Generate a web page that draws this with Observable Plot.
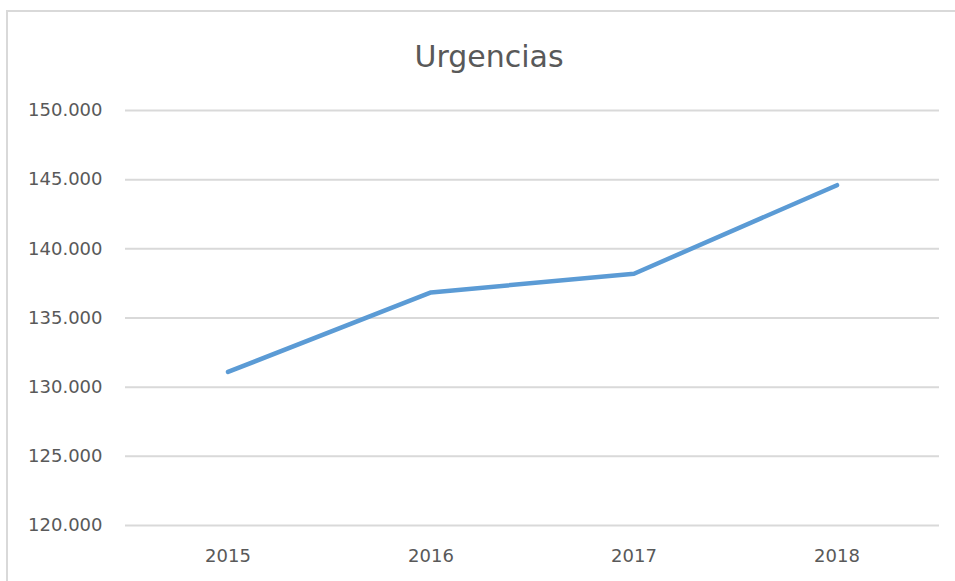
<!DOCTYPE html>
<html>
<head>
<meta charset="utf-8">
<script src="https://cdn.jsdelivr.net/npm/d3@7"></script>
<script src="https://cdn.jsdelivr.net/npm/@observablehq/plot@0.6"></script>
<style>
  html, body { margin: 0; padding: 0; background: #fff; overflow: hidden; width: 955px; height: 581px; }
  #wrap { position: relative; width: 955px; height: 581px; overflow: hidden; }
  #bl { position: absolute; left: 6px; top: 10px; width: 2px; height: 600px; background: #d9d9d9; }
  #bt { position: absolute; left: 6px; top: 10px; width: 949px; height: 2px; background: #d9d9d9; }
  #chart { position: absolute; left: 0; top: 0; }
  #chart svg { display: block; }
</style>
</head>
<body>
<div id="wrap"><div id="bl"></div><div id="bt"></div><div id="chart"></div></div>
<script>
const titleText = "Urgencias";
const years = ["2015", "2016", "2017", "2018"];
const values = [131100, 136850, 138200, 144600];
const yTicks = [120000, 125000, 130000, 135000, 140000, 145000, 150000];

const data = years.map((y, i) => ({year: y, value: values[i]}));
const fmt = d => d3.format(",")(d).replace(/,/g, ".");

const chart = Plot.plot({
  width: 955,
  height: 581,
  marginLeft: 125,
  marginRight: 16,
  marginTop: 110,
  marginBottom: 56,
  style: {fontFamily: "DejaVu Sans", background: "transparent"},
  x: {type: "band", domain: years, padding: 0},
  y: {domain: [120000, 150000]},
  marks: [
    Plot.gridY(yTicks, {stroke: "#d9d9d9", strokeOpacity: 1, strokeWidth: 2}),
    Plot.axisY(yTicks, {tickSize: 0, tickPadding: 23, tickFormat: fmt, fontSize: 18, fill: "#595959", label: null}),
    Plot.axisX({tickSize: 0, tickPadding: 24, fontSize: 18, fill: "#595959", label: null}),
    Plot.line(data, {x: "year", y: "value", stroke: "#5b9bd5", strokeWidth: 4.5, strokeLinecap: "round", strokeLinejoin: "round"}),
    Plot.text([titleText], {text: d => d, frameAnchor: "top", dx: -43.5, dy: -53, lineAnchor: "middle", fontSize: 30, fill: "#595959"})
  ]
});
document.getElementById("chart").appendChild(chart);
</script>
</body>
</html>
